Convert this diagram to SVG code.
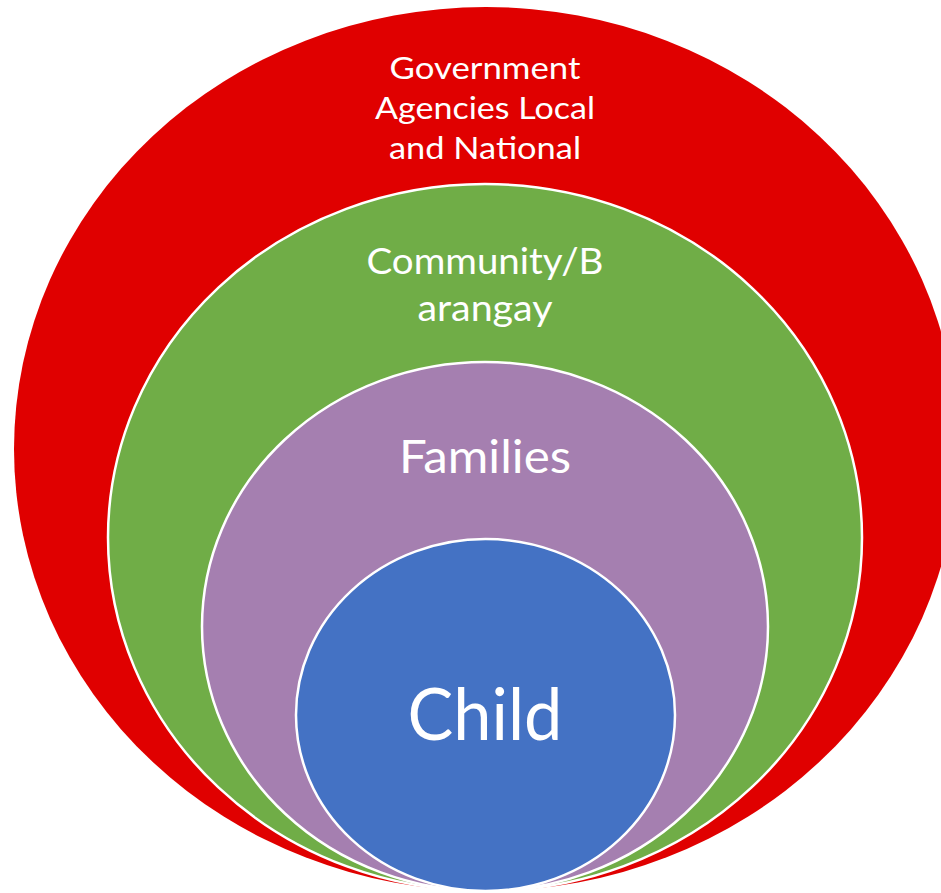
<svg xmlns="http://www.w3.org/2000/svg" width="941" height="893" viewBox="0 0 941 893">
<style>
.ring{stroke:#FFFFFF;stroke-width:2.5}
.lbl{fill:#FFFFFF;font-family:Lato,"Open Sans","Liberation Sans",sans-serif;text-anchor:middle}
</style>
<rect width="941" height="893" fill="#FFFFFF"/>
<g id="government">
<ellipse cx="486" cy="449" rx="472" ry="442" fill="#E00000"/>
<text class="lbl" font-size="30.5"><tspan x="485" y="79" textLength="191" lengthAdjust="spacingAndGlyphs">Government</tspan><tspan x="485" y="119" textLength="220" lengthAdjust="spacingAndGlyphs">Agencies Local</tspan><tspan x="485" y="159" textLength="192" lengthAdjust="spacingAndGlyphs">and National</tspan></text>
</g>
<g id="community">
<ellipse class="ring" cx="485" cy="537.5" rx="377" ry="353.5" fill="#70AD47"/>
<text class="lbl" font-size="36"><tspan x="485" y="274" textLength="237" lengthAdjust="spacingAndGlyphs">Community/B</tspan><tspan x="485" y="321" textLength="135" lengthAdjust="spacingAndGlyphs">arangay</tspan></text>
</g>
<g id="families">
<ellipse class="ring" cx="485" cy="626.5" rx="283" ry="264.5" fill="#A57FB0"/>
<text class="lbl" font-size="46" x="485" y="473" textLength="172" lengthAdjust="spacingAndGlyphs">Families</text>
</g>
<g id="child">
<ellipse class="ring" cx="485.5" cy="715" rx="189.5" ry="176" fill="#4472C4"/>
<text class="lbl" font-size="71" x="485" y="740" textLength="155" lengthAdjust="spacingAndGlyphs">Child</text>
</g>
<g id="connectors"/>
</svg>
